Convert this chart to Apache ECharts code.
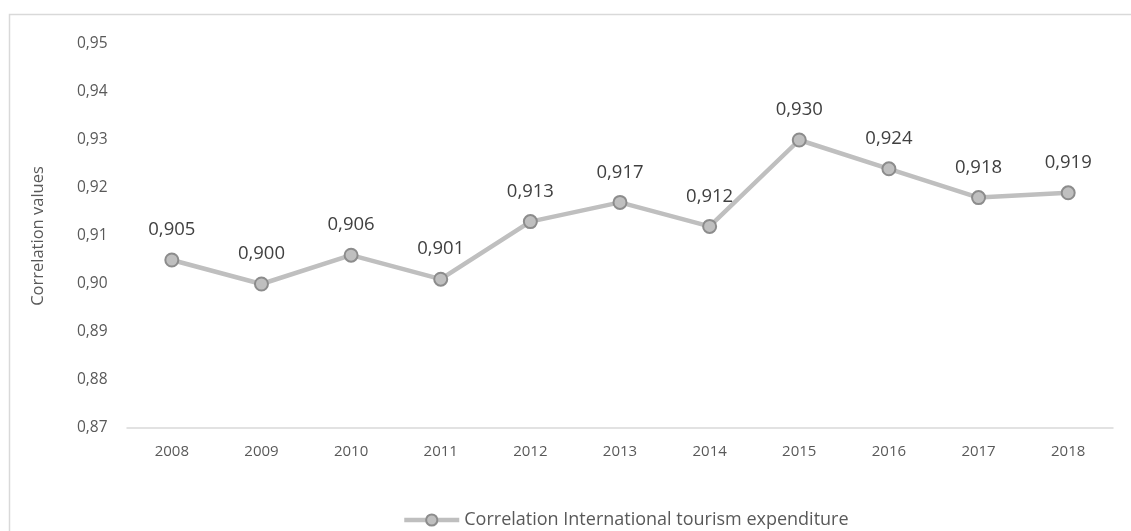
<!DOCTYPE html>
<html>
<head>
<meta charset="utf-8">
<script src="https://cdn.jsdelivr.net/npm/echarts@6/dist/echarts.min.js"></script>
<style>html,body{margin:0;padding:0;background:#fff}#c{width:1131px;height:531px}</style>
</head>
<body>
<div id="c"></div>
<script>
const categories = ['2008','2009','2010','2011','2012','2013','2014','2015','2016','2017','2018'];
const values = [0.905, 0.900, 0.906, 0.901, 0.913, 0.917, 0.912, 0.930, 0.924, 0.918, 0.919];
const seriesName = 'Correlation International tourism expenditure';
const yAxisName = 'Correlation values';

const chart = echarts.init(document.getElementById('c'), null, {renderer: 'canvas'});
const font = "'Open Sans', sans-serif";
chart.setOption({
  animation: false,
  textStyle: {fontFamily: font},
  graphic: [{
    type: 'rect', shape: {x: 9.5, y: 14.5, width: 1140, height: 540},
    style: {fill: 'none', stroke: '#d9d9d9', lineWidth: 1.5}, silent: true
  }],
  grid: {left: 127, right: 18, top: 44, bottom: 103},
  xAxis: {
    type: 'category', data: categories, boundaryGap: true,
    axisLine: {lineStyle: {color: '#d9d9d9', width: 1.5}},
    axisTick: {show: false},
    axisLabel: {color: '#595959', fontSize: 15, margin: 16, fontFamily: font}
  },
  yAxis: {
    type: 'value', min: 0.87, max: 0.95, interval: 0.01,
    name: yAxisName, nameLocation: 'middle', nameGap: 80,
    nameTextStyle: {color: '#595959', fontSize: 16.5, fontFamily: font},
    axisLine: {show: false}, axisTick: {show: false}, splitLine: {show: false},
    axisLabel: {color: '#595959', fontSize: 15.5, margin: 50, align: 'left',
      formatter: v => v.toFixed(2).replace('.', ','), fontFamily: font}
  },
  legend: {
    top: 506, left: 397, itemWidth: 55, itemHeight: 14,
    lineStyle: {width: 4.5, color: '#bfbfbf'},
    textStyle: {color: '#595959', fontSize: 18, fontFamily: font},
    data: [seriesName]
  },
  series: [{
    name: seriesName, type: 'line', data: values,
    symbol: 'circle', symbolSize: 13,
    lineStyle: {color: '#bfbfbf', width: 4.5},
    itemStyle: {color: '#bfbfbf', borderColor: '#8c8c8c', borderWidth: 2},
    label: {show: true, position: 'top', distance: 13, color: '#404040', fontSize: 18.5, fontFamily: font,
      formatter: p => p.value.toFixed(3).replace('.', ',')}
  }]
});
</script>
</body>
</html>
